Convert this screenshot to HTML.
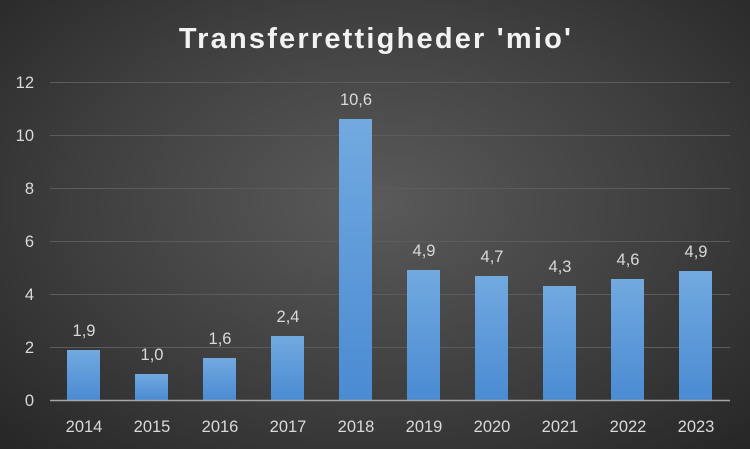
<!DOCTYPE html>
<html><head><style>
body{margin:0;width:750px;height:449px;overflow:hidden;background:radial-gradient(ellipse at 50% 45%,#5a5a5a 0%,#3f3f3f 55%,#262626 100%);font-family:"Liberation Sans",sans-serif;}
</style></head><body>
<svg width="750" height="449" xmlns="http://www.w3.org/2000/svg" style="position:absolute;left:0;top:0">
<defs><linearGradient id="g" x1="0" y1="0" x2="0" y2="1"><stop offset="0" stop-color="#72a9e0"/><stop offset="1" stop-color="#4a8bd2"/></linearGradient></defs>
<text x="376" y="48" text-anchor="middle" fill="#f2f2f2" font-size="29" font-weight="bold" letter-spacing="2.2">Transferrettigheder 'mio'</text>
<g stroke="#5c5c5c" stroke-width="1">
<line x1="50" x2="730" y1="82.5" y2="82.5"/><line x1="50" x2="730" y1="135.5" y2="135.5"/><line x1="50" x2="730" y1="188.5" y2="188.5"/><line x1="50" x2="730" y1="241.5" y2="241.5"/><line x1="50" x2="730" y1="294.5" y2="294.5"/><line x1="50" x2="730" y1="347.5" y2="347.5"/>
</g>
<g fill="#d9d9d9" font-size="16.5" text-anchor="end">
<text x="34" y="88">12</text><text x="34" y="141">10</text><text x="34" y="194">8</text><text x="34" y="247">6</text><text x="34" y="300">4</text><text x="34" y="353">2</text><text x="34" y="406">0</text>
</g>
<g fill="url(#g)">
<rect x="67" y="350" width="33" height="50.5"/>
<rect x="135" y="374" width="33" height="26.5"/>
<rect x="203" y="358" width="33" height="42.5"/>
<rect x="271" y="336" width="33" height="64.5"/>
<rect x="339" y="119" width="33" height="281.5"/>
<rect x="407" y="270" width="33" height="130.5"/>
<rect x="475" y="276" width="33" height="124.5"/>
<rect x="543" y="286" width="33" height="114.5"/>
<rect x="611" y="279" width="33" height="121.5"/>
<rect x="679" y="271" width="33" height="129.5"/>
</g>
<line x1="50" x2="730" y1="400.5" y2="400.5" stroke="#a6a6a6" stroke-width="1.5"/>
<g fill="#d9d9d9" font-size="16.5" text-anchor="middle">
<text x="84" y="336">1,9</text><text x="152" y="360">1,0</text><text x="220" y="344">1,6</text><text x="288" y="322">2,4</text><text x="356" y="105">10,6</text><text x="424" y="256">4,9</text><text x="492" y="262">4,7</text><text x="560" y="272">4,3</text><text x="628" y="265">4,6</text><text x="696" y="257">4,9</text>
</g>
<g fill="#d9d9d9" font-size="16.5" text-anchor="middle">
<text x="84" y="432">2014</text><text x="152" y="432">2015</text><text x="220" y="432">2016</text><text x="288" y="432">2017</text><text x="356" y="432">2018</text><text x="424" y="432">2019</text><text x="492" y="432">2020</text><text x="560" y="432">2021</text><text x="628" y="432">2022</text><text x="696" y="432">2023</text>
</g>
</svg>
</body></html>
